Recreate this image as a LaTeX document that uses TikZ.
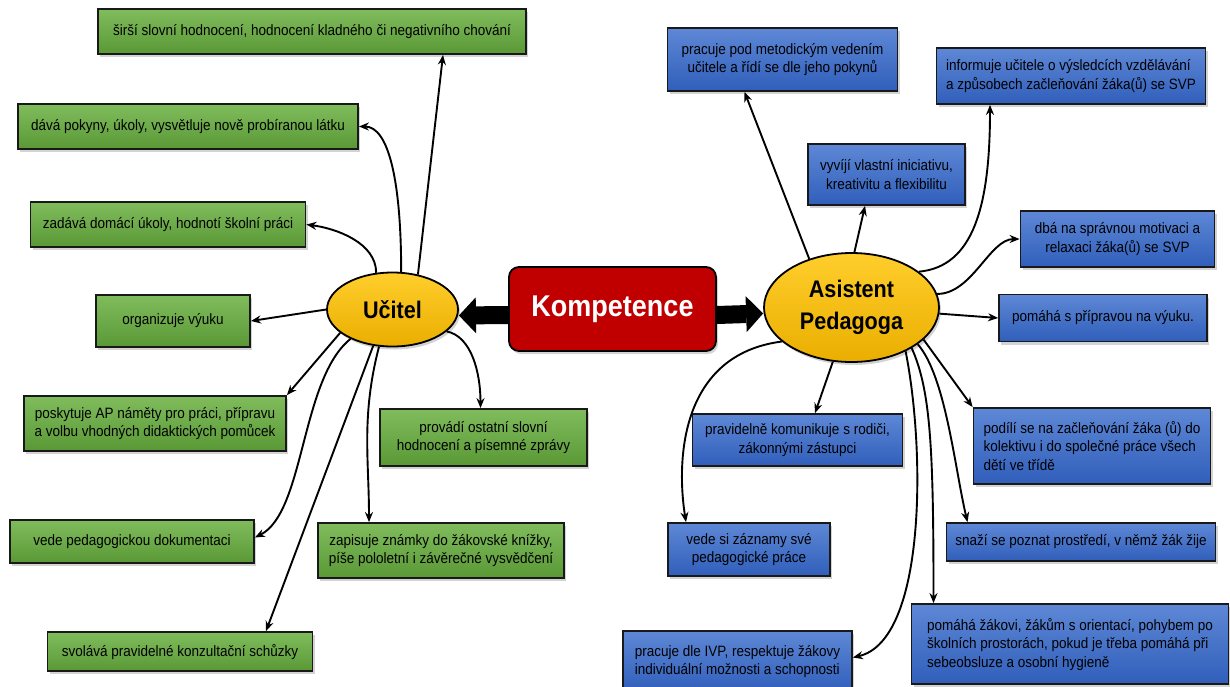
\documentclass[tikz,border=0pt]{standalone}
\usepackage{fontspec}
\setmainfont{Liberation Sans}[FakeStretch=0.9]
\usetikzlibrary{arrows.meta, shadows, shapes.geometric}
\definecolor{greentop}{RGB}{128,188,92}
\definecolor{greenbot}{RGB}{90,152,54}
\definecolor{bluetop}{RGB}{94,136,214}
\definecolor{bluebot}{RGB}{48,94,186}
\definecolor{goldtop}{RGB}{255,206,44}
\definecolor{goldbot}{RGB}{234,174,0}
\definecolor{kred}{RGB}{192,0,0}

\begin{document}
\begin{tikzpicture}[
  x=1pt, y=-1pt,
  font=\fontsize{15}{18.5}\selectfont,
  >={Stealth[length=10pt, width=8pt]},
  wh/.style 2 args={minimum width=#1pt, minimum height=#2pt},
  shade/.style={drop shadow={shadow xshift=2pt, shadow yshift=-3pt, opacity=0.35}},
  box/.style={draw=black!90, line width=1.8pt, align=center, inner sep=2pt, shade},
  gbox/.style={box, top color=greentop, bottom color=greenbot},
  bbox/.style={box, top color=bluetop, bottom color=bluebot},
  hub/.style={ellipse, draw=black, line width=1.8pt, inner sep=0pt, align=center,
              top color=goldtop, bottom color=goldbot, shade,
              font=\bfseries\fontsize{24}{32}\selectfont},
  core/.style={draw=black, line width=1.8pt, rounded corners=10pt, fill=kred, shade,
               text=white, font=\bfseries\fontsize{30}{32}\selectfont},
  link/.style={->, line width=1.9pt},
  big/.style={line width=18pt, -{Triangle[length=17pt, width=36pt, line width=0pt]}}
]
  \useasboundingbox (0,0) rectangle (1230,686);

  % centre
  \node[core, wh={207}{84}]  (komp)   at (612.5,309)   {Kompetence};
  \node[hub, wh={131}{74}]   (ucitel) at (392.5,309.5) {Učitel};
  \node[hub, wh={175}{109}]  (asist)  at (851.5,307.5) {Asistent\\Pedagoga};

  \draw[big] ([yshift=-6pt]komp.west) -- ([yshift=-6pt]ucitel.east);
  \draw[big] ([yshift=-6pt]komp.east) -- ([yshift=-6pt]asist.west);

  % teacher
  \node[gbox, wh={428}{45}] (sirsi)   at (312,31.5)    {širší slovní hodnocení, hodnocení kladného či negativního chování};
  \node[gbox, wh={340}{45}] (pokyny)  at (188,126.5)   {dává pokyny, úkoly, vysvětluje nově probíranou látku};
  \node[gbox, wh={275}{45}] (ukoly)   at (168,224.5)   {zadává domácí úkoly, hodnotí školní práci};
  \node[gbox, wh={154}{52}] (vyuka)   at (173,321)     {organizuje výuku};
  \node[gbox, wh={262}{55}] (namety)  at (155,423.5)   {poskytuje AP náměty pro práci, přípravu\\a volbu vhodných didaktických pomůcek};
  \node[gbox, wh={207}{57}] (zpravy)  at (483.5,437.5) {provádí ostatní slovní\\hodnocení a písemné zprávy};
  \node[gbox, wh={244}{43}] (dokum)   at (132,541.5)   {vede pedagogickou dokumentaci};
  \node[gbox, wh={246}{55}] (znamky)  at (441,550.5)   {zapisuje známky do žákovské knížky,\\píše pololetní i závěrečné vysvědčení};
  \node[gbox, wh={265}{39}] (schuzky) at (180,651.5)   {svolává pravidelné konzultační schůzky};

  \draw[link] (ucitel.54) -- ([xshift=131pt]sirsi.south);
  \draw[link] (ucitel.77) .. controls +(0,-90) and +(30,0) .. (pokyny.east);
  \draw[link] (ucitel.114) .. controls +(0,-30) and +(30,4) .. (ukoly.east);
  \draw[link] (ucitel.west) -- (vyuka.east);
  \draw[link] (ucitel.204) -- (namety.north east);
  \draw[link] (ucitel.215) .. controls +(-50,40) and +(50,-25) .. ([yshift=4pt]dokum.east);
  \draw[link] (ucitel.242) -- ([xshift=86pt]schuzky.north);
  \draw[link] (ucitel.250) .. controls +(-18,70) and +(0,-63) .. ([xshift=-72pt]znamky.north);
  \draw[link] (ucitel.338) .. controls +(25,5) and +(0,-35) .. ([xshift=-3pt]zpravy.north);

  % assistant
  \node[bbox, wh={230}{63}] (vedeni)     at (782.5,59.5) {pracuje pod metodickým vedením\\učitele a řídí se dle jeho pokynů};
  \node[bbox, wh={269}{56}, align=left] (vysledky) at (1071,76) {informuje učitele o výsledcích vzdělávání\\a způsobech začleňování žáka(ů) se SVP};
  \node[bbox, wh={157}{61}] (iniciativa) at (886.5,174.5) {vyvíjí vlastní iniciativu,\\kreativitu a flexibilitu};
  \node[bbox, wh={194}{56}] (motivace)   at (1117.5,239)  {dbá na správnou motivaci a\\relaxaci žáka(ů) se SVP};
  \node[bbox, wh={208}{47}] (priprava)   at (1103,318)    {pomáhá s přípravou na výuku.};
  \node[bbox, wh={210}{52}] (rodice)     at (797.5,440)   {pravidelně komunikuje s rodiči,\\zákonnými zástupci};
  \node[bbox, wh={237}{76}, align=left] (kolektiv) at (1092,446) {podílí se na začleňování žáka (ů) do\\kolektivu i do společné práce všech\\dětí ve třídě};
  \node[bbox, wh={162}{53}] (zaznamy)    at (749,549.5)   {vede si záznamy své\\pedagogické práce};
  \node[bbox, wh={269}{38}] (prostredi)  at (1081,542)    {snaží se poznat prostředí, v němž žák žije};
  \node[bbox, wh={317}{80}, align=left] (orientace) at (1070,644) {pomáhá žákovi, žákům s orientací, pohybem po\\školních prostorách, pokud je třeba pomáhá při\\sebeobsluze a osobní hygieně};
  \node[bbox, wh={229}{61}, align=left] (ivp) at (737.5,661.5) {pracuje dle IVP, respektuje žákovy\\individuální možnosti a schopnosti};

  \draw[link] (asist.131) -- ([xshift=-38pt]vedeni.south);
  \draw[link] (asist.87) -- ([xshift=-21.5pt]iniciativa.south);
  \draw[link] (asist.28) .. controls +(55,-5) and +(0,100) .. ([xshift=-81pt]vysledky.south);
  \draw[link] (asist.9) .. controls +(35,0) and +(-30,0) .. (motivace.west);
  \draw[link] (asist.356) -- (priprava.west);
  \draw[link] (asist.251) -- ([xshift=17.5pt]rodice.north);
  \draw[link] (asist.206) .. controls +(-101,13) and +(-10,-63) .. ([xshift=-63pt]zaznamy.north);
  \draw[link] (asist.321) .. controls +(20,100) and +(73,-17) .. ([yshift=4pt]ivp.east);
  \draw[link] (asist.326) .. controls +(19,42) and +(0,-154) .. ([xshift=-136.5pt]orientace.north);
  \draw[link] (asist.331) .. controls +(28,32) and +(-12.6,-53) .. ([xshift=-113.5pt]prostredi.north);
  \draw[link] (asist.336) -- (kolektiv.north west);
\end{tikzpicture}
\end{document}
